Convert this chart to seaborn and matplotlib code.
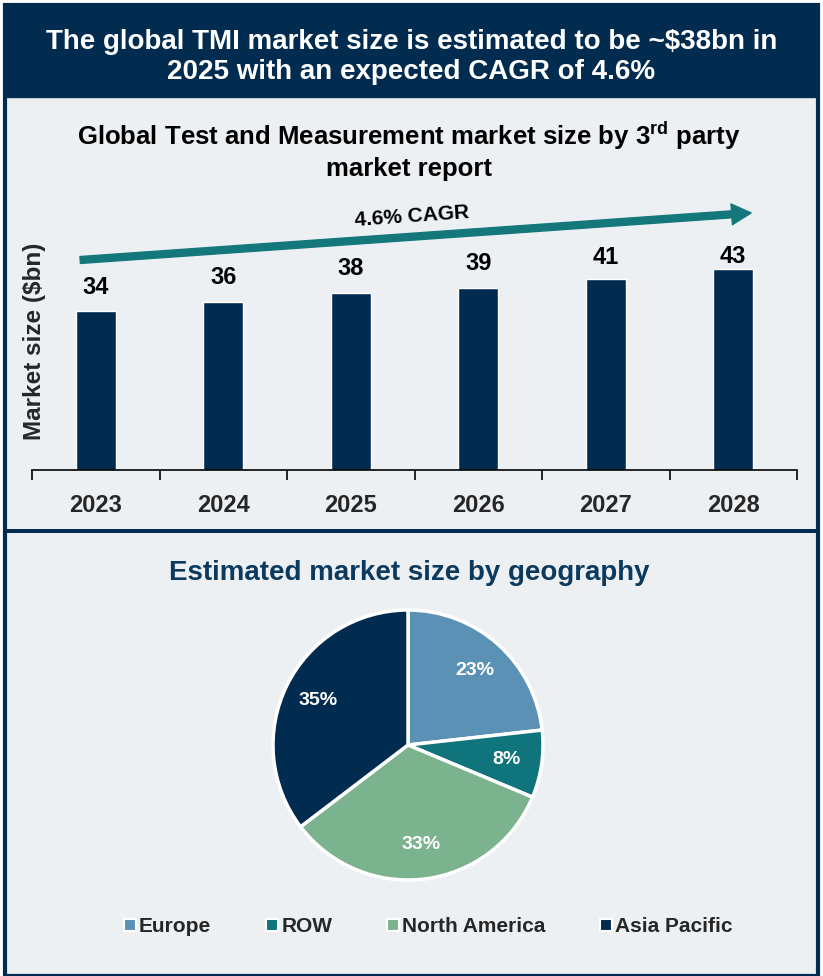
import matplotlib
matplotlib.use("Agg")
import matplotlib.pyplot as plt
from matplotlib.patches import Rectangle
from matplotlib.lines import Line2D
import seaborn as sns
import pandas as pd

# ----------------------------
# Data
# ----------------------------
years = ["2023", "2024", "2025", "2026", "2027", "2028"]
market_size = [34, 36, 38, 39, 41, 43]

regions = ["Europe", "ROW", "North America", "Asia Pacific"]
region_share = [23, 8, 33, 35]
region_colors = ["#5B91B5", "#0F747B", "#7BB38E", "#022B50"]

header_text = "The global TMI market size is estimated to be ~$38bn in\n2025 with an expected CAGR of 4.6%"
bar_title = "Global Test and Measurement market size by 3$^{\\mathbf{rd}}$ party\nmarket report"
pie_title = "Estimated market size by geography"

NAVY = "#022B50"
TEAL = "#13777C"
BG = "#EDF0F3"

sns.set_theme(style="white")
plt.rcParams["font.family"] = ["Liberation Sans", "DejaVu Sans"]
plt.rcParams["mathtext.fontset"] = "custom"
plt.rcParams["mathtext.bf"] = "Liberation Sans:bold"
plt.rcParams["mathtext.rm"] = "Liberation Sans"

W, H = 823, 976
fig = plt.figure(figsize=(W / 100, H / 100), dpi=100, facecolor="white")


def px(x0, y0, w, h):
    # pixel box (top-left origin) -> figure fraction
    return [x0 / W, 1 - (y0 + h) / H, w / W, h / H]


# ----------------------------
# Frame / header
# ----------------------------
fig.patches.append(Rectangle((5 / W, 0), 813 / W, 1 - 5 / H, transform=fig.transFigure,
                             facecolor=BG, edgecolor=NAVY, linewidth=3, zorder=-10))
fig.patches.append(Rectangle((5 / W, 1 - 97 / H), 813 / W, 92 / H, transform=fig.transFigure,
                             facecolor=NAVY, edgecolor=NAVY, zorder=-9))
fig.patches.append(Rectangle((5 / W, 1 - 533 / H), 813 / W, 4 / H, transform=fig.transFigure,
                             facecolor=NAVY, edgecolor="none", zorder=-9))
fig.text(0.5, 1 - 57 / H, header_text, ha="center", va="center", color="white",
         fontsize=20, fontweight="bold", linespacing=1.2)

# ----------------------------
# Bar chart
# ----------------------------
fig.text(409 / W, 1 - 150 / H, bar_title, ha="center", va="center", color="black",
         fontsize=18.5, fontweight="bold", linespacing=1.3)

ax = fig.add_axes(px(32, 190, 765, 280))
ax.set_facecolor("none")
df = pd.DataFrame({"year": years, "size": market_size})
sns.barplot(data=df, x="year", y="size", color=NAVY, saturation=1, width=0.31, ax=ax)
ax.set_ylim(0, 60)
ax.set_xlim(-0.5, len(years) - 0.5)

# labels of the last bars sit tighter under the arrow
label_pad = [9, 9, 9, 9, 7, 1]
labels = ax.bar_label(ax.containers[0], padding=9, fontsize=17, fontweight="bold", color="black")
for t, p in zip(labels, label_pad):
    t.xyann = (0, p)

for s in ["top", "right", "left"]:
    ax.spines[s].set_visible(False)
ax.spines["bottom"].set_color("black")
ax.spines["bottom"].set_linewidth(1.2)
ax.set_yticks([])
ax.set_xticks(range(len(years)))
ax.set_xticklabels(years, fontsize=17, fontweight="bold")
ax.set_xticks([i - 0.5 for i in range(len(years) + 1)], minor=True)
ax.tick_params(axis="x", which="major", length=0, pad=17)
ax.tick_params(axis="x", which="minor", length=7, width=1.2, color="black", direction="out", bottom=True)
ax.set_xlabel("")
ax.set_ylabel("Market size ($bn)", fontsize=17.5, fontweight="bold")
ax.yaxis.set_label_coords(0.018, 0.46)

ax.annotate("", xy=(0.94, 0.918), xytext=(0.063, 0.75), xycoords="axes fraction",
            arrowprops=dict(width=5, headwidth=15, headlength=14, color=TEAL, shrink=0))
ax.text(0.497, 0.905, "4.6% CAGR", transform=ax.transAxes, ha="center", va="center",
        rotation=4, fontsize=15, fontweight="bold", color="black")

# ----------------------------
# Pie chart
# ----------------------------
fig.text(409 / W, 1 - 573 / H, pie_title, ha="center", va="center", color="#0B3A5E",
         fontsize=20, fontweight="bold")

r = 135
pax = fig.add_axes(px(408 - r * 1.02, 745 - r * 1.02, 2 * r * 1.02, 2 * r * 1.02))
wedges, _, autotexts = pax.pie(region_share, colors=region_colors, startangle=90, counterclock=False,
                               autopct="%d%%", pctdistance=0.74,
                               wedgeprops=dict(edgecolor="white", linewidth=2.5))
for t in autotexts:
    t.set_color("white")
    t.set_fontsize(14)
    t.set_fontweight("bold")
pax.set_xlim(-1.02, 1.02)
pax.set_ylim(-1.02, 1.02)

handles = [Line2D([], [], marker="s", linestyle="none", markersize=8, markerfacecolor=c,
                  markeredgecolor="white", markeredgewidth=1.5) for c in region_colors]
fig.legend(handles, regions, loc="center", bbox_to_anchor=(427 / W, 1 - 927 / H), ncol=4,
           frameon=False, handletextpad=0.05, columnspacing=2.5, handlelength=0.8,
           prop=dict(weight="bold", size=15))

fig.savefig("out.png", dpi=100, facecolor="white")
